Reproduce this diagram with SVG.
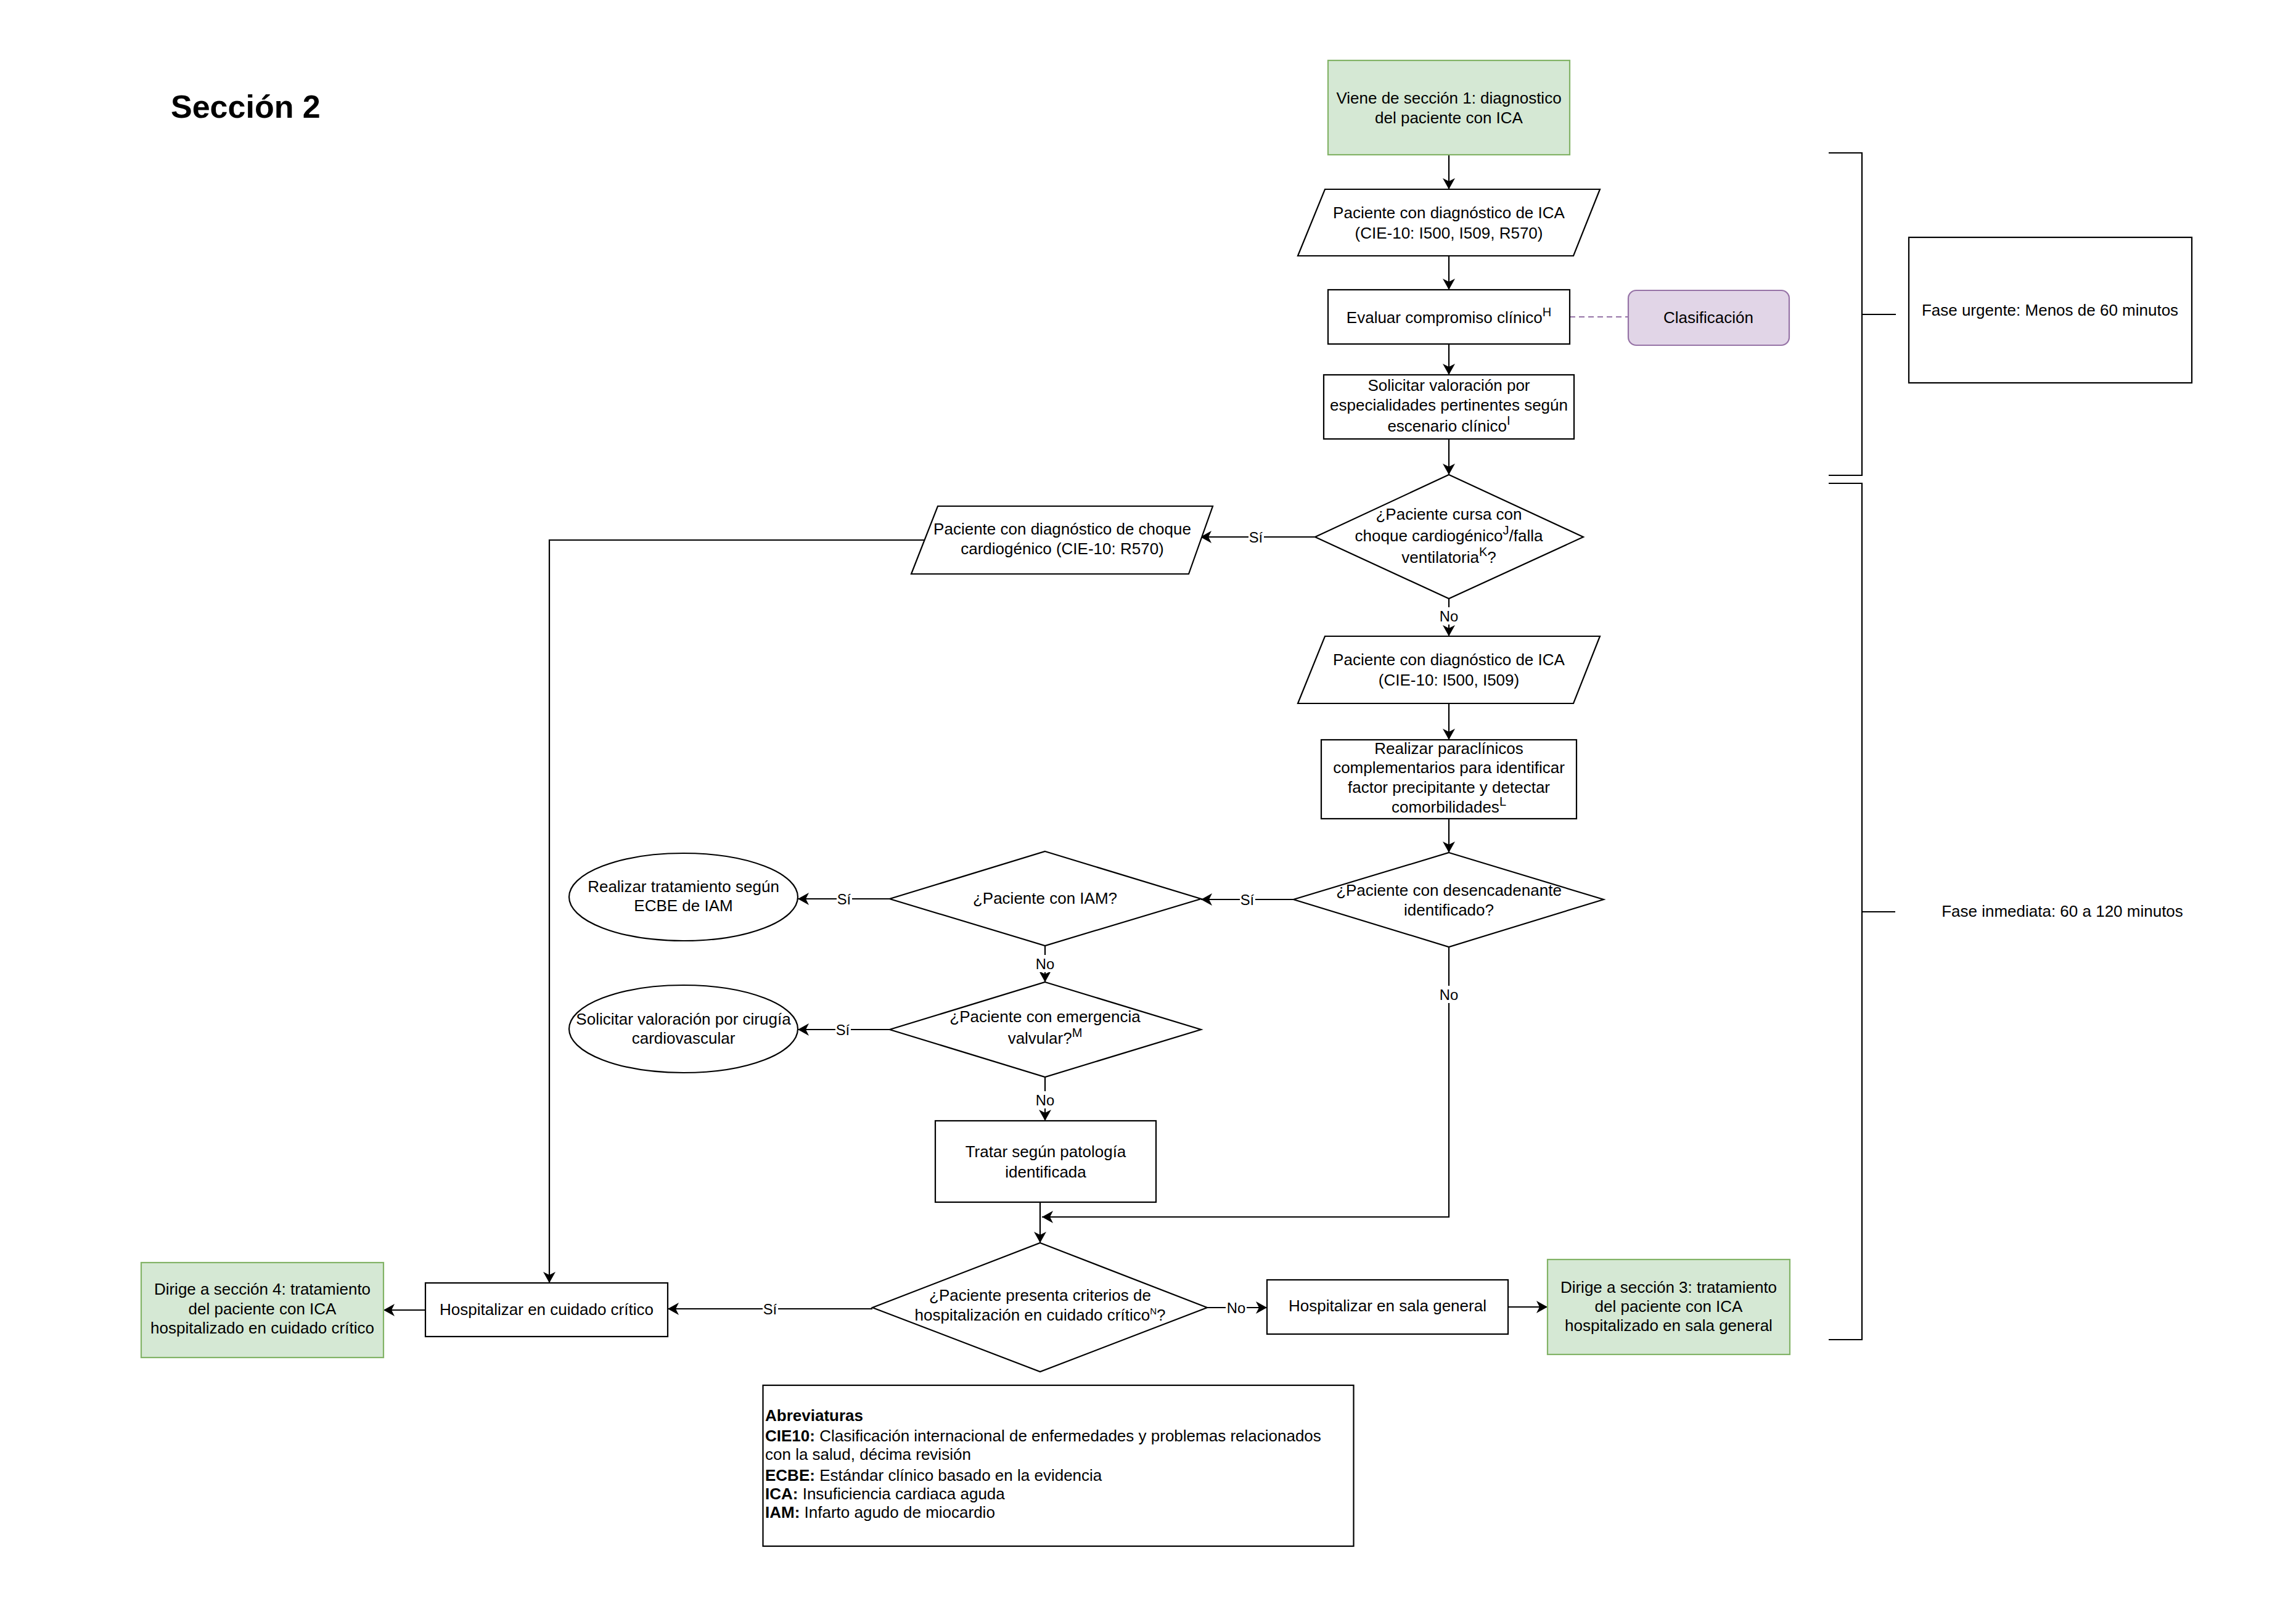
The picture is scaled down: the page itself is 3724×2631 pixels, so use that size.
<svg xmlns="http://www.w3.org/2000/svg" width="3724" height="2631" viewBox="0 0 3724 2631">
<style>
.t{font-family:"Liberation Sans",Arial,sans-serif;font-size:26px;text-anchor:middle;fill:#000}
.tl{font-family:"Liberation Sans",Arial,sans-serif;font-size:26px;text-anchor:start;fill:#000}
.lbl{font-family:"Liberation Sans",Arial,sans-serif;font-size:23.8px;text-anchor:middle;fill:#000}
.b{font-weight:bold}
.box{fill:#fff;stroke:#000;stroke-width:2.2}
.green{fill:#d5e8d4;stroke:#82b366;stroke-width:2.2}
.purple{fill:#e1d5e7;stroke:#9673a6;stroke-width:2.2}
.conn{fill:none;stroke:#000;stroke-width:2.2}
.arr{marker-end:url(#arrow)}
.lblbg{fill:#fff;stroke:none}
</style>
<defs>
<marker id="arrow" markerUnits="userSpaceOnUse" viewBox="0 0 18 20" markerWidth="18" markerHeight="20" refX="18" refY="10" orient="auto">
<path d="M0,0 L18,10 L0,20 L5,10 Z" fill="#000"/>
</marker>
</defs>
<rect x="0" y="0" width="3724" height="2631" fill="#fff"/>

<g id="title">
<text class="t b" x="277" y="191" style="font-size:52px;text-anchor:start">Sección 2</text>
</g>

<g id="connectors">
<path class="conn arr" d="M2350,251 V307"/>
<path class="conn arr" d="M2350,415 V470"/>
<path class="conn arr" d="M2350,558 V608"/>
<path class="conn arr" d="M2350,712 V770"/>
<path d="M2546,514 H2641" fill="none" stroke="#9673a6" stroke-width="2.2" stroke-dasharray="9 6"/>
<path class="conn arr" d="M2133,871 H1947"/>
<path class="conn arr" d="M1499,876 H891 V2081"/>
<path class="conn arr" d="M2350,971 V1032"/>
<path class="conn arr" d="M2350,1141 V1200"/>
<path class="conn arr" d="M2350,1328 V1383"/>
<path class="conn arr" d="M2098,1459 H1948"/>
<path class="conn arr" d="M1443,1458 H1294"/>
<path class="conn arr" d="M1695,1534 V1593"/>
<path class="conn arr" d="M1443,1670 H1294"/>
<path class="conn arr" d="M1695,1747 V1818"/>
<path class="conn arr" d="M1687,1950 V2016"/>
<path class="conn arr" d="M2350,1536 V1974 H1690"/>
<path class="conn arr" d="M1958,2121 H2055"/>
<path class="conn arr" d="M2446,2120 H2510"/>
<path class="conn arr" d="M1415,2123 H1083"/>
<path class="conn arr" d="M690,2125 H622"/>
<rect class="lblbg" x="2025" y="857" width="25" height="28"/>
<text class="lbl" x="2037" y="880">Sí</text>
<rect class="lblbg" x="2333" y="985" width="34" height="28"/>
<text class="lbl" x="2350" y="1008">No</text>
<rect class="lblbg" x="2011" y="1445" width="25" height="28"/>
<text class="lbl" x="2023" y="1468">Sí</text>
<rect class="lblbg" x="1357" y="1444" width="25" height="28"/>
<text class="lbl" x="1369" y="1467">Sí</text>
<rect class="lblbg" x="1678" y="1549" width="34" height="28"/>
<text class="lbl" x="1695" y="1572">No</text>
<rect class="lblbg" x="1355" y="1656" width="25" height="28"/>
<text class="lbl" x="1367" y="1679">Sí</text>
<rect class="lblbg" x="1678" y="1770" width="34" height="28"/>
<text class="lbl" x="1695" y="1793">No</text>
<rect class="lblbg" x="2333" y="1599" width="34" height="28"/>
<text class="lbl" x="2350" y="1622">No</text>
<rect class="lblbg" x="1988" y="2107" width="34" height="28"/>
<text class="lbl" x="2005" y="2130">No</text>
<rect class="lblbg" x="1237" y="2109" width="25" height="28"/>
<text class="lbl" x="1249" y="2132">Sí</text>
</g>

<g id="brackets">
<path class="conn" d="M2966,248 H3020 V771 H2966 M3020,510 H3075"/>
<path class="conn" d="M2966,784 H3020 V2173 H2966 M3020,1479 H3074"/>
</g>

<g id="n-viene">
<rect class="green" x="2154" y="98" width="392" height="153"/>
<text class="t" x="2350" y="168">Viene de sección 1: diagnostico</text>
<text class="t" x="2350" y="200">del paciente con ICA</text>
</g>

<g id="n-p1">
<polygon class="box" points="2149,307 2595,307 2552,415 2105,415"/>
<text class="t" x="2350" y="354">Paciente con diagnóstico de ICA</text>
<text class="t" x="2350" y="387">(CIE-10: I500, I509, R570)</text>
</g>

<g id="n-evaluar">
<rect class="box" x="2154" y="470" width="392" height="88"/>
<text class="t" x="2350" y="524">Evaluar compromiso clínico<tspan dy="-11" font-size="20">H</tspan></text>
</g>

<g id="n-clasificacion">
<rect class="purple" x="2641" y="471" width="261" height="89" rx="13" ry="13"/>
<text class="t" x="2771" y="524">Clasificación</text>
</g>

<g id="n-fase-urgente">
<rect class="box" x="3096" y="385" width="459" height="236"/>
<text class="t" x="3325" y="512">Fase urgente: Menos de 60 minutos</text>
</g>

<g id="n-fase-inmediata">
<text class="t" x="3345" y="1487">Fase inmediata: 60 a 120 minutos</text>
</g>

<g id="n-solicitar">
<rect class="box" x="2147" y="608" width="406" height="104"/>
<text class="t" x="2350" y="634">Solicitar valoración por</text>
<text class="t" x="2350" y="666">especialidades pertinentes según</text>
<text class="t" x="2350" y="700">escenario clínico<tspan dy="-11" font-size="20">I</tspan></text>
</g>

<g id="n-d1">
<polygon class="box" points="2350,770 2568,871 2350,971 2133,871"/>
<text class="t" x="2350" y="843">¿Paciente cursa con</text>
<text class="t" x="2350" y="878">choque cardiogénico<tspan dy="-11" font-size="20">J</tspan><tspan dy="11">/falla</tspan></text>
<text class="t" x="2350" y="913">ventilatoria<tspan dy="-11" font-size="20">K</tspan><tspan dy="11">?</tspan></text>
</g>

<g id="n-p2">
<polygon class="box" points="1521,821 1967,821 1928,931 1478,931"/>
<text class="t" x="1723" y="867">Paciente con diagnóstico de choque</text>
<text class="t" x="1723" y="899">cardiogénico (CIE-10: R570)</text>
</g>

<g id="n-p3">
<polygon class="box" points="2149,1032 2595,1032 2552,1141 2105,1141"/>
<text class="t" x="2350" y="1079">Paciente con diagnóstico de ICA</text>
<text class="t" x="2350" y="1112">(CIE-10: I500, I509)</text>
</g>

<g id="n-realizar">
<rect class="box" x="2143" y="1200" width="414" height="128"/>
<text class="t" x="2350" y="1223">Realizar paraclínicos</text>
<text class="t" x="2350" y="1254">complementarios para identificar</text>
<text class="t" x="2350" y="1286">factor precipitante y detectar</text>
<text class="t" x="2350" y="1318">comorbilidades<tspan dy="-11" font-size="20">L</tspan></text>
</g>

<g id="n-d2">
<polygon class="box" points="2350,1383 2601,1459 2350,1536 2098,1459"/>
<text class="t" x="2350" y="1453">¿Paciente con desencadenante</text>
<text class="t" x="2350" y="1485">identificado?</text>
</g>

<g id="n-d-iam">
<polygon class="box" points="1695,1381 1948,1458 1695,1534 1443,1458"/>
<text class="t" x="1695" y="1466">¿Paciente con IAM?</text>
</g>

<g id="n-e1">
<ellipse class="box" cx="1108.5" cy="1455" rx="185.5" ry="71"/>
<text class="t" x="1108.5" y="1447">Realizar tratamiento según</text>
<text class="t" x="1108.5" y="1478">ECBE de IAM</text>
</g>

<g id="n-d-valv">
<polygon class="box" points="1695,1593 1948,1670 1695,1747 1443,1670"/>
<text class="t" x="1695" y="1658">¿Paciente con emergencia</text>
<text class="t" x="1695" y="1693">valvular?<tspan dy="-11" font-size="20">M</tspan></text>
</g>

<g id="n-e2">
<ellipse class="box" cx="1108.5" cy="1669" rx="185.5" ry="71"/>
<text class="t" x="1108.5" y="1662">Solicitar valoración por cirugía</text>
<text class="t" x="1108.5" y="1693">cardiovascular</text>
</g>

<g id="n-tratar">
<rect class="box" x="1517" y="1818" width="358" height="132"/>
<text class="t" x="1696" y="1877">Tratar según patología</text>
<text class="t" x="1696" y="1910">identificada</text>
</g>

<g id="n-d3">
<polygon class="box" points="1687,2016 1958,2121 1687,2225 1415,2121"/>
<text class="t" x="1687" y="2110">¿Paciente presenta criterios de</text>
<text class="t" x="1687" y="2142">hospitalización en cuidado crítico<tspan dy="-10" font-size="15">N</tspan><tspan dy="10">?</tspan></text>
</g>

<g id="n-sala">
<rect class="box" x="2055" y="2076" width="391" height="88"/>
<text class="t" x="2250.5" y="2127">Hospitalizar en sala general</text>
</g>

<g id="n-sec3">
<rect class="green" x="2510" y="2043" width="393" height="154"/>
<text class="t" x="2706.5" y="2097">Dirige a sección 3: tratamiento</text>
<text class="t" x="2706.5" y="2128">del paciente con ICA</text>
<text class="t" x="2706.5" y="2159">hospitalizado en sala general</text>
</g>

<g id="n-critico">
<rect class="box" x="690" y="2081" width="393" height="87"/>
<text class="t" x="886.5" y="2133">Hospitalizar en cuidado crítico</text>
</g>

<g id="n-sec4">
<rect class="green" x="229" y="2048" width="393" height="154"/>
<text class="t" x="425.5" y="2100">Dirige a sección 4: tratamiento</text>
<text class="t" x="425.5" y="2132">del paciente con ICA</text>
<text class="t" x="425.5" y="2163">hospitalizado en cuidado crítico</text>
</g>

<g id="n-abreviaturas">
<rect class="box" x="1237.5" y="2247" width="958" height="261"/>
<text class="tl b" x="1241" y="2305">Abreviaturas</text>
<text class="tl" x="1241" y="2338"><tspan class="b">CIE10:</tspan> Clasificación internacional de enfermedades y problemas relacionados</text>
<text class="tl" x="1241" y="2368">con la salud, décima revisión</text>
<text class="tl" x="1241" y="2402"><tspan class="b">ECBE:</tspan> Estándar clínico basado en la evidencia</text>
<text class="tl" x="1241" y="2432"><tspan class="b">ICA:</tspan> Insuficiencia cardiaca aguda</text>
<text class="tl" x="1241" y="2462"><tspan class="b">IAM:</tspan> Infarto agudo de miocardio</text>
</g>
</svg>
